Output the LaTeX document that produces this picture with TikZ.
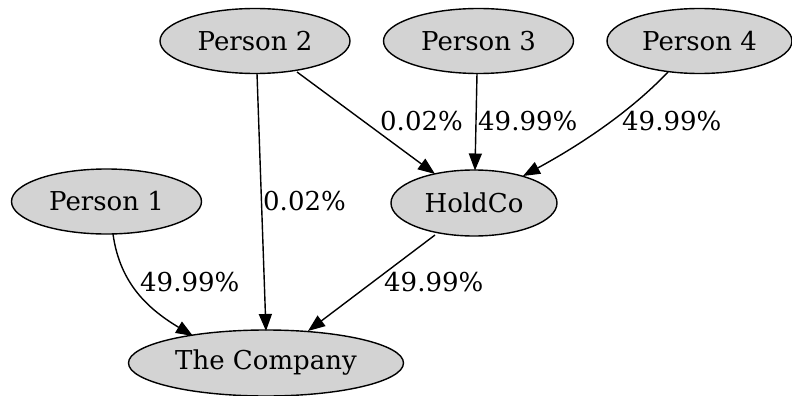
\documentclass[tikz,border=0pt]{standalone}
\usepackage{fontspec}
\setmainfont{DejaVu Serif}
\usetikzlibrary{arrows.meta,shapes.geometric}
\definecolor{nodegray}{HTML}{D3D3D3}
\begin{document}
\begin{tikzpicture}[x=1pt,y=-1pt,
  ent/.style={ellipse,draw=black,fill=nodegray,line width=1.4pt,inner sep=0pt,font=\fontsize{26}{31}\selectfont},
  edge/.style={draw=black,line width=1.4pt,-{Triangle[length=17pt,width=13pt]}},
  lbl/.style={anchor=west,inner sep=0pt,font=\fontsize{26}{31}\selectfont}]
\useasboundingbox (0,0) rectangle (792,396);
\node[ent,minimum width=190pt,minimum height=65pt] (p2) at (255,41) {Person 2};
\node[ent,minimum width=190pt,minimum height=65pt] (p3) at (478.5,41) {Person 3};
\node[ent,minimum width=185pt,minimum height=65pt] (p4) at (699.5,41) {Person 4};
\node[ent,minimum width=190pt,minimum height=65pt] (p1) at (106.5,201.5) {Person 1};
\node[ent,minimum width=166pt,minimum height=66pt] (hc) at (474,203) {HoldCo};
\node[ent,minimum width=275pt,minimum height=66pt] (co) at (266,363) {The Company};
\coordinate (p2a) at (257,73.5);
\coordinate (p2b) at (297,72);
\coordinate (p3a) at (477,73.5);
\coordinate (p4a) at (668,72);
\coordinate (p1a) at (113,234);
\coordinate (hca) at (435,235);
\draw[edge] (p2a) -- (266,331);
\draw[edge] (p2b) -- (435,174);
\draw[edge] (p3a) -- (475,170.5);
\draw[edge] (p4a) .. controls (630,112) and (580,145) .. (523,176);
\draw[edge] (p1a) .. controls (120,285) and (150,310) .. (193,336);
\draw[edge] (hca) -- (308,331);
\node[lbl] (l1) at (263,201) {0.02\%};
\node[lbl] (l2) at (380,121) {0.02\%};
\node[lbl] (l3) at (478,121) {49.99\%};
\node[lbl] (l4) at (622,121) {49.99\%};
\node[lbl] (l5) at (140,282) {49.99\%};
\node[lbl] (l6) at (384,282) {49.99\%};
\end{tikzpicture}
\end{document}
